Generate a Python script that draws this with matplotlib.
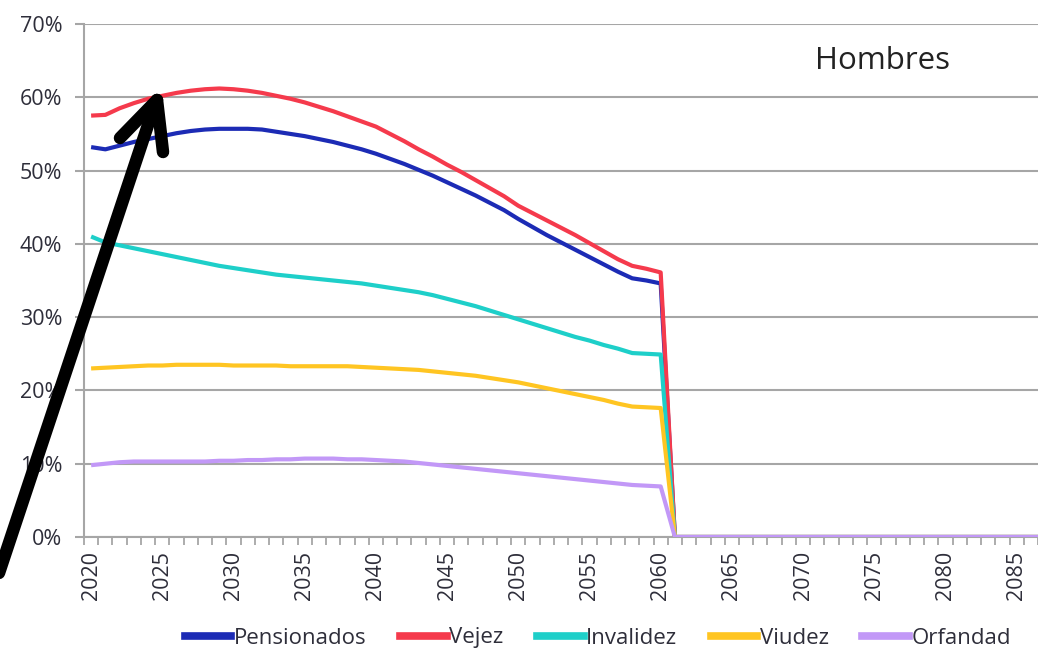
import matplotlib
matplotlib.use("Agg")
import matplotlib.pyplot as plt
from matplotlib.lines import Line2D
import numpy as np

years = list(range(2020, 2091))

pensionados_2020_2060 = [53.2, 52.9, 53.4, 53.9, 54.3, 54.7, 55.1, 55.4, 55.6, 55.7,
                         55.7, 55.7, 55.6, 55.3, 55.0, 54.7, 54.3, 53.9, 53.4, 52.9,
                         52.3, 51.6, 50.9, 50.1, 49.3, 48.4, 47.5, 46.6, 45.6, 44.6,
                         43.4, 42.3, 41.2, 40.2, 39.2, 38.2, 37.2, 36.2, 35.3, 35.0,
                         34.6]
vejez_2020_2060 = [57.5, 57.6, 58.5, 59.2, 59.8, 60.2, 60.6, 60.9, 61.1, 61.2,
                   61.1, 60.9, 60.6, 60.2, 59.8, 59.3, 58.7, 58.1, 57.4, 56.7,
                   56.0, 55.0, 54.0, 52.9, 51.9, 50.8, 49.8, 48.7, 47.6, 46.5,
                   45.2, 44.2, 43.2, 42.2, 41.2, 40.1, 39.0, 37.9, 37.0, 36.6,
                   36.1]
invalidez_2020_2060 = [41.0, 40.2, 39.8, 39.4, 39.0, 38.6, 38.2, 37.8, 37.4, 37.0,
                       36.7, 36.4, 36.1, 35.8, 35.6, 35.4, 35.2, 35.0, 34.8, 34.6,
                       34.3, 34.0, 33.7, 33.4, 33.0, 32.5, 32.0, 31.5, 30.9, 30.3,
                       29.7, 29.1, 28.5, 27.9, 27.3, 26.8, 26.2, 25.7, 25.1, 25.0,
                       24.9]
viudez_2020_2060 = [23.0, 23.1, 23.2, 23.3, 23.4, 23.4, 23.5, 23.5, 23.5, 23.5,
                    23.4, 23.4, 23.4, 23.4, 23.3, 23.3, 23.3, 23.3, 23.3, 23.2,
                    23.1, 23.0, 22.9, 22.8, 22.6, 22.4, 22.2, 22.0, 21.7, 21.4,
                    21.1, 20.7, 20.3, 19.9, 19.5, 19.1, 18.7, 18.2, 17.8, 17.7,
                    17.6]
orfandad_2020_2060 = [9.8, 10.0, 10.2, 10.3, 10.3, 10.3, 10.3, 10.3, 10.3, 10.4,
                      10.4, 10.5, 10.5, 10.6, 10.6, 10.7, 10.7, 10.7, 10.6, 10.6,
                      10.5, 10.4, 10.3, 10.1, 9.9, 9.7, 9.5, 9.3, 9.1, 8.9,
                      8.7, 8.5, 8.3, 8.1, 7.9, 7.7, 7.5, 7.3, 7.1, 7.0,
                      6.9]
zeros_2061_2090 = [0.0] * 30

series_names = ["Pensionados", "Vejez", "Invalidez", "Viudez", "Orfandad"]
series_values = [pensionados_2020_2060 + zeros_2061_2090,
                 vejez_2020_2060 + zeros_2061_2090,
                 invalidez_2020_2060 + zeros_2061_2090,
                 viudez_2020_2060 + zeros_2061_2090,
                 orfandad_2020_2060 + zeros_2061_2090]
colors = ["#1C2BB5", "#F53A4C", "#1ECFC9", "#FFC522", "#C298F7"]

y_ticks = [0, 10, 20, 30, 40, 50, 60, 70]
x_label_years = list(range(2020, 2087, 5))
title = "Hombres"

plt.rcParams['font.family'] = ['Open Sans', 'DejaVu Sans']
TXT = "#2E2E3A"

W, H = 1038, 650
fig = plt.figure(figsize=(W / 100, H / 100), dpi=100)
ax = fig.add_axes([84 / W, 1 - 537 / H, (1038 - 84) / W, (537 - 24) / H])

for name, vals, c in zip(series_names, series_values, colors):
    ax.plot(years, vals, color=c, lw=3.0, label=name, solid_capstyle='butt',
            solid_joinstyle='round', zorder=3)

ax.set_xlim(2019.5, 2086.5)
ax.set_ylim(0, 70)
ax.set_yticks(y_ticks)
ax.set_yticklabels([f"{v}%" for v in y_ticks], fontsize=15.5, color=TXT)
ax.grid(axis='y', color="#A6A6A6", lw=1.5, zorder=1)
ax.set_axisbelow(True)

ax.set_xticks(x_label_years)
ax.set_xticklabels([str(y) for y in x_label_years], rotation=90, fontsize=15.5,
                   color=TXT)
ax.set_xticks(np.arange(2019.5, 2087, 1.0), minor=True)
ax.tick_params(axis='x', which='major', length=0, pad=10)
ax.tick_params(axis='x', which='minor', length=6, width=1.3, color="#A6A6A6")
ax.tick_params(axis='y', which='major', length=6.5, width=1.5, color="#A6A6A6", pad=9)

for s in ['top', 'right']:
    ax.spines[s].set_visible(False)
ax.spines['left'].set_color("#A6A6A6")
ax.spines['left'].set_linewidth(1.5)
ax.spines['bottom'].set_color("#A6A6A6")
ax.spines['bottom'].set_linewidth(1.5)

fig.text(882 / W, 1 - 61 / H, title, fontsize=22.5, color="#222222",
         ha='center', va='center')

handles = [Line2D([0], [0], color=c, lw=5.5) for c in colors]
fig.legend(handles, series_names, loc='center', bbox_to_anchor=(598 / W, 1 - 638 / H),
           ncol=5, frameon=False, fontsize=16, handlelength=2.1, handletextpad=0.12,
           columnspacing=1.5, labelcolor=TXT, borderpad=0, borderaxespad=0)

# black hand-drawn arrow overlay (figure pixel coords)
def fx(x):
    return x / W

def fy(y):
    return 1 - y / H

arrow_kw = dict(color='black', lw=9, solid_capstyle='round', transform=fig.transFigure,
                zorder=10)
fig.add_artist(Line2D([fx(-5), fx(153)], [fy(585), fy(110)], **arrow_kw))
fig.add_artist(Line2D([fx(120), fx(157)], [fy(138), fy(100)], **arrow_kw))
fig.add_artist(Line2D([fx(157), fx(163)], [fy(100), fy(152)], **arrow_kw))

fig.savefig("out.png", dpi=100)
